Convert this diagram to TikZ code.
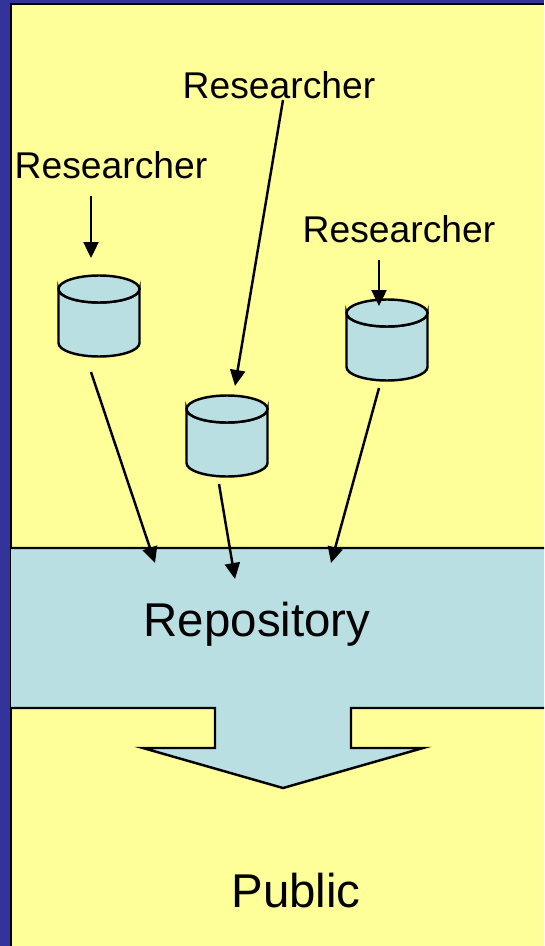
\documentclass[tikz,border=0pt]{standalone}
\usepackage{fontspec}
\setmainfont{Liberation Sans}
\usetikzlibrary{arrows.meta}
\definecolor{slideblue}{HTML}{333399}
\definecolor{slideyellow}{HTML}{FFFF99}
\definecolor{storeblue}{HTML}{B9DFE3}
\tikzset{
	smalltext/.style={font=\fontsize{21.2}{25}\selectfont,inner sep=0pt},
	bigtext/.style={font=\fontsize{27}{32}\selectfont,inner sep=0pt},
	arrowline/.style={line width=1.4pt,-{Triangle[length=0.32cm,width=0.3cm]}},
	storebox/.style={minimum width=1.62cm,minimum height=1.6cm,inner sep=0pt},
	storeline/.style={draw,fill=storeblue,line width=1.4pt}
}
% name, x, y
\newcommand{\storedrum}[3]{
	\node[storebox] (#1) at (#2,#3) {};
	\path[storeline] ([shift={(-40.5,-27)}]#1.center) -- ++(0,54) arc (180:0:40.5 and 13.5) -- ++(0,-54) arc (0:180:40.5 and 13.5) -- cycle;
	\path[storeline] ([shift={(0,-27)}]#1.center) ellipse (40.5 and 13.5);
}
\begin{document}
\begin{tikzpicture}[x=0.02cm,y=-0.02cm]
	\useasboundingbox (0,0) rectangle (544,946);
	\fill[slideblue] (0,0) rectangle (544,946);
	\fill[slideyellow] (11,4) rectangle (544,946);
	\draw[line width=1.6pt] (11,946) -- (11,4) -- (544,4);
	\begin{scope}
		\clip (11,0) rectangle (544,946);
		\draw[fill=storeblue,line width=1.4pt] (0,548) -- (560,548) -- (560,708) -- (351,708) -- (351,748) -- (423,748) -- (283,788) -- (143,748) -- (215,748) -- (215,708) -- (0,708) -- cycle;
	\end{scope}
	\node[smalltext] (resA) at (111,165) {Researcher};
	\node[smalltext] (resB) at (279,85) {Researcher};
	\node[smalltext] (resC) at (399,229) {Researcher};
	\storedrum{dbA}{99}{316}
	\storedrum{dbB}{227}{436}
	\storedrum{dbC}{387}{340}
	\node[bigtext] (repo) at (257,624) {Repository};
	\node[bigtext] (public) at (296,891) {Public};
	\draw[arrowline] ([shift={(-20,31)}]resA.center) -- ([shift={(-8,-58)}]dbA.center);
	\draw[arrowline] ([shift={(4,15)}]resB.center) -- ([shift={(8,-50)}]dbB.center);
	\draw[arrowline] ([shift={(-20,31)}]resC.center) -- ([shift={(-8,-34)}]dbC.center);
	\draw[arrowline] ([shift={(-8,56)}]dbA.center) -- ([shift={(-102,-61)}]repo.center);
	\draw[arrowline] ([shift={(-8,48)}]dbB.center) -- ([shift={(-22,-45)}]repo.center);
	\draw[arrowline] ([shift={(-8,48)}]dbC.center) -- ([shift={(74,-61)}]repo.center);
\end{tikzpicture}
\end{document}
